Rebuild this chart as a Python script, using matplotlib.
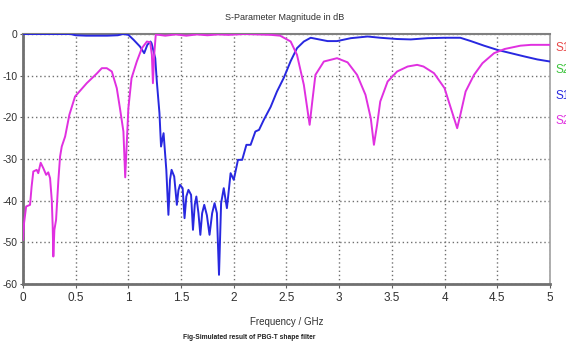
import matplotlib
matplotlib.use('Agg')
import matplotlib.pyplot as plt

# S2,2 (magenta)
f_s22 = [0.0, 0.01, 0.03, 0.067, 0.082, 0.098, 0.13, 0.145, 0.168, 0.193, 0.22, 0.24,
         0.257, 0.273, 0.282, 0.288, 0.298, 0.314, 0.336, 0.352, 0.368, 0.40, 0.44,
         0.494, 0.605, 0.70, 0.748, 0.795, 0.843, 0.89, 0.92, 0.953, 0.97, 1.0, 1.03,
         1.08, 1.128, 1.176, 1.207, 1.223, 1.233, 1.245, 1.26, 1.35, 1.45, 1.55, 1.65,
         1.75, 1.85, 1.95, 2.1, 2.35, 2.44, 2.54, 2.60, 2.665, 2.72, 2.745, 2.775,
         2.855, 2.98, 3.08, 3.17, 3.25, 3.30, 3.33, 3.36, 3.39, 3.46, 3.55, 3.65, 3.74,
         3.80, 3.90, 4.0, 4.06, 4.12, 4.15, 4.20, 4.28, 4.36, 4.47, 4.57, 4.72, 4.82, 5.0]
db_s22 = [-49.4, -45.4, -41.4, -41.0, -36.6, -33.0, -32.6, -33.4, -30.9, -32.2, -33.8, -33.2,
          -34.6, -39.8, -46.2, -53.4, -47.0, -44.6, -35.0, -29.4, -27.0, -24.6, -19.4,
          -15.0, -11.8, -9.5, -8.2, -8.2, -9.0, -13.0, -17.8, -23.4, -34.4, -17.8, -10.6,
          -6.6, -3.4, -1.8, -2.0, -5.0, -11.8, -5.0, -0.1, -0.4, -0.1, -0.4, -0.1,
          -0.3, -0.1, -0.2, 0.0, -0.2, -0.4, -1.8, -5.0, -12.2, -21.8, -16.2, -9.8,
          -6.6, -5.8, -6.8, -9.8, -14.6, -20.2, -26.6, -21.8, -16.2, -11.4, -9.0, -7.8, -7.4,
          -7.8, -9.4, -13.0, -17.8, -22.6, -19.4, -13.8, -9.8, -7.0, -4.6, -3.6, -2.8, -2.6, -2.6]

# S1,2 (blue)
f_s12 = [0.0, 0.45, 0.5, 0.6, 0.8, 0.9, 0.95, 1.0, 1.05, 1.11, 1.15, 1.18, 1.21, 1.22,
         1.255, 1.27, 1.295, 1.31, 1.334, 1.36, 1.38, 1.395, 1.41, 1.435, 1.46, 1.475,
         1.49, 1.515, 1.533, 1.55, 1.57, 1.595, 1.613, 1.63, 1.645, 1.665, 1.683, 1.70,
         1.72, 1.745, 1.77, 1.795, 1.818, 1.84, 1.86, 1.88, 1.905, 1.935, 1.97, 2.0,
         2.04, 2.08, 2.12, 2.16, 2.205, 2.24, 2.285, 2.35, 2.41, 2.475, 2.54, 2.60,
         2.665, 2.73, 2.79, 2.89, 2.98, 3.11, 3.27, 3.39, 3.55, 3.68, 3.84, 4.0, 4.15,
         4.25, 4.375, 4.5, 4.63, 4.76, 4.88, 5.0]
db_s12 = [0.0, 0.0, -0.3, -0.4, -0.4, -0.3, 0.0, -0.2, -1.4, -3.0, -4.6, -2.6, -1.8, -2.2,
          -5.8, -11.4, -19.0, -27.0, -23.8, -32.6, -43.4, -35.0, -32.6, -34.2, -41.0, -37.5,
          -36.2, -37.0, -44.2, -39.0, -37.4, -38.6, -47.0, -41.0, -39.0, -43.0, -48.2, -43.0,
          -41.0, -43.5, -48.2, -43.0, -40.6, -43.0, -57.8, -40.6, -37.0, -41.8, -33.4, -35.0,
          -30.2, -30.2, -26.6, -26.6, -23.4, -23.0, -20.6, -17.5, -13.8, -10.5, -6.5, -3.4,
          -1.8, -0.9, -1.2, -1.7, -1.7, -1.0, -0.6, -0.9, -1.2, -1.3, -1.0, -0.9, -0.9,
          -1.7, -2.8, -3.8, -4.6, -5.4, -6.1, -6.6]

legend_names = ['S1,1', 'S2,1', 'S1,2', 'S2,2']
legend_colors = ['#e84848', '#3cc43c', '#2828e0', '#e030e0']

xticks = [0, 0.5, 1, 1.5, 2, 2.5, 3, 3.5, 4, 4.5, 5]
xticklabels = ['0', '0.5', '1', '1.5', '2', '2.5', '3', '3.5', '4', '4.5', '5']
yticks = [0, -10, -20, -30, -40, -50, -60]

plt.rcParams['font.family'] = ['Liberation Sans', 'DejaVu Sans']
plt.rcParams['axes.unicode_minus'] = False

fig = plt.figure(figsize=(5.66, 3.46), dpi=100)
ax = fig.add_axes([0.0406, 0.1792, 0.931, 0.7225])

ax.plot(f_s12, db_s12, color='#2828e0', lw=1.4, zorder=3)
ax.plot(f_s22, db_s22, color='#e030e0', lw=1.4, zorder=4)

ax.set_xlim(0, 5)
ax.set_ylim(-60, 0)
ax.set_xticks(xticks)
ax.set_xticklabels(xticklabels)
ax.set_yticks(yticks)
ax.tick_params(labelsize=8.5, length=3, color='#606060', labelcolor='#303030', pad=3)
ax.tick_params(axis='y', pad=1.5, length=2.5, labelsize=7.5)
ax.grid(True, ls=(0, (1, 2)), color='#707070', lw=1.0)

for s in ['left', 'bottom']:
    ax.spines[s].set_color('#707070')
    ax.spines[s].set_linewidth(2)
ax.spines['top'].set_color('#808080')
ax.spines['top'].set_linewidth(1.5)
ax.spines['right'].set_color('#a0a0a0')
ax.spines['right'].set_linewidth(1.2)

fig.text(0.503, 0.948, 'S-Parameter Magnitude in dB', ha='center', va='center',
         fontsize=6.5, color='#303030')
fig.text(0.506, 0.07, 'Frequency / GHz', ha='center', va='center',
         fontsize=7, color='#303030')
fig.text(0.44, 0.024, 'Fig-Simulated result of PBG-T shape filter', ha='center',
         va='center', fontsize=4.8, fontweight='bold', color='#202020')

# legend names, cut by the right edge as in the original
ys = [0.864, 0.798, 0.725, 0.653]
for name, c, y in zip(legend_names, legend_colors, ys):
    fig.text(0.982, y, name, ha='left', va='center', fontsize=8.5, color=c)

fig.savefig('out.png', dpi=100)
